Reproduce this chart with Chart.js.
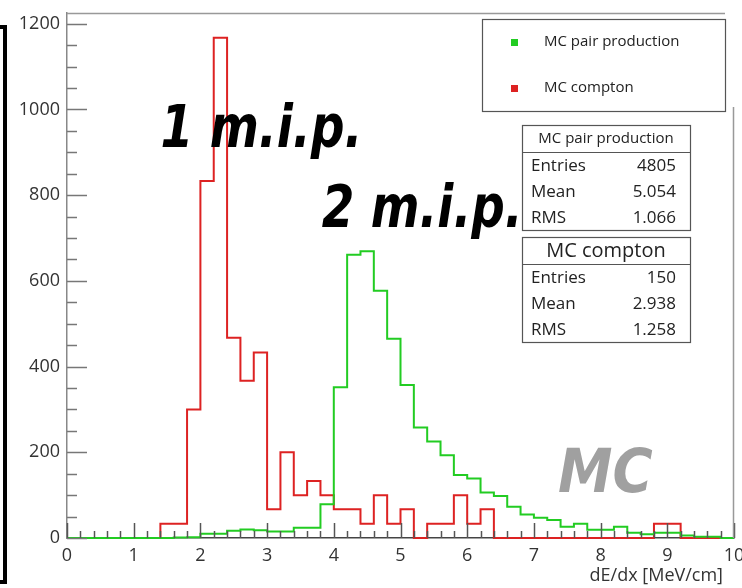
<!DOCTYPE html>
<html>
<head>
<meta charset="utf-8">
<script src="https://cdn.jsdelivr.net/npm/chart.js@4.4.1/dist/chart.umd.min.js"></script>
<style>
  body { margin: 0; background: #fff; }
  canvas { display: block; }
</style>
</head>
<body>
<canvas id="dedxChart" width="742" height="588"></canvas>
<script>
// dE/dx bin edges [MeV/cm], 50 bins of 0.2
const binEdges = [0, 0.2, 0.4, 0.6, 0.8, 1, 1.2, 1.4, 1.6, 1.8,
                  2, 2.2, 2.4, 2.6, 2.8, 3, 3.2, 3.4, 3.6, 3.8,
                  4, 4.2, 4.4, 4.6, 4.8, 5, 5.2, 5.4, 5.6, 5.8,
                  6, 6.2, 6.4, 6.6, 6.8, 7, 7.2, 7.4, 7.6, 7.8,
                  8, 8.2, 8.4, 8.6, 8.8, 9, 9.2, 9.4, 9.6, 9.8, 10];

// MC pair production (green)
const pairCounts = [0, 0, 0, 0, 0, 0, 0, 0, 1, 2,
                    10, 10, 17, 20, 18, 15, 15, 24, 24, 79,
                    352, 661, 669, 577, 465, 357, 258, 225, 193, 147,
                    139, 106, 98, 73, 55, 47, 42, 26, 33, 19,
                    19, 26, 12, 9, 12, 12, 6, 3, 3, 0];

// MC compton (red)
const comptonCounts = [0, 0, 0, 0, 0, 0, 0, 33, 33, 300,
                       833, 1167, 467, 367, 433, 67, 200, 100, 133, 100,
                       67, 67, 33, 100, 33, 67, 0, 33, 33, 100,
                       33, 67, 0, 0, 0, 0, 0, 0, 0, 0,
                       0, 0, 0, 0, 33, 33, 0, 0, 0, 0];

const seriesNames = ['MC pair production', 'MC compton'];
const seriesColors = ['#22cc22', '#dd2222'];
const statLabels = ['Entries', 'Mean', 'RMS'];
const pairStats = ['4805', '5.054', '1.066'];
const comptonStats = ['150', '2.938', '1.258'];
const yTickValues = [0, 200, 400, 600, 800, 1000, 1200];
const xTitle = 'dE/dx [MeV/cm]';

function toSteps(counts) {
    // one point per low edge, plus the last upper edge
    return binEdges.map((x, i) => ({ x: x, y: counts[Math.min(i, counts.length - 1)] }));
}

function fitText(ctx, text, x, y, width, font, color) {
    ctx.save();
    ctx.font = font;
    let w = ctx.measureText(text).width;
    ctx.translate(x, y);
    ctx.scale(width / w, 1);
    ctx.fillStyle = color;
    ctx.textBaseline = 'alphabetic';
    ctx.textAlign = 'left';
    ctx.fillText(text, 0, 0);
    ctx.restore();
}

function statsBox(ctx, x, y, title, titleFont, values) {
    const w = 168, h = 105;
    ctx.save();
    ctx.strokeStyle = '#555';
    ctx.lineWidth = 1.2;
    ctx.strokeRect(x + 0.5, y + 0.5, w, h);
    ctx.beginPath();
    ctx.moveTo(x, y + 27.5);
    ctx.lineTo(x + w, y + 27.5);
    ctx.stroke();
    ctx.fillStyle = '#222';
    ctx.textBaseline = 'middle';
    ctx.textAlign = 'center';
    ctx.font = titleFont;
    ctx.fillText(title, x + w / 2, y + 14);
    ctx.font = '17px "Open Sans"';
    for (let i = 0; i < statLabels.length; i++) {
        let ty = y + 41 + i * 26;
        ctx.textAlign = 'left';
        ctx.fillText(statLabels[i], x + 9, ty);
        ctx.textAlign = 'right';
        ctx.fillText(values[i], x + 154, ty);
    }
    ctx.restore();
}

const rootLook = {
    id: 'rootLook',
    afterDatasetsDraw(chart) {
        const ctx = chart.ctx;
        const xs = chart.scales.x, ys = chart.scales.y;
        const a = chart.chartArea;
        ctx.save();

        // y ticks, inward
        ctx.strokeStyle = '#777';
        ctx.lineWidth = 1.5;
        for (let v = 0; v <= 1200; v += 50) {
            let py = Math.round(ys.getPixelForValue(v)) + 0.5;
            let len = v % 200 === 0 ? 20 : 10;
            ctx.beginPath();
            ctx.moveTo(a.left, py);
            ctx.lineTo(a.left + len, py);
            ctx.stroke();
        }

        // x ticks, inward
        ctx.strokeStyle = '#555';
        for (let i = 0; i <= 50; i++) {
            let px = Math.round(xs.getPixelForValue(i * 0.2)) + 0.5;
            let len = i % 5 === 0 ? 15 : 7;
            ctx.beginPath();
            ctx.moveTo(px, a.bottom);
            ctx.lineTo(px, a.bottom - len);
            ctx.stroke();
        }

        // frame pieces: top and right
        ctx.strokeStyle = '#999';
        ctx.lineWidth = 1.5;
        ctx.beginPath();
        ctx.moveTo(a.left, a.top + 0.5);
        ctx.lineTo(725, a.top + 0.5);
        ctx.moveTo(a.right - 0.5, 107);
        ctx.lineTo(a.right - 0.5, a.bottom);
        ctx.stroke();
        ctx.restore();
    },
    afterDraw(chart) {
        const ctx = chart.ctx;
        const xs = chart.scales.x, ys = chart.scales.y;

        // black bracket on the far left
        ctx.save();
        ctx.strokeStyle = '#000';
        ctx.lineWidth = 4;
        ctx.beginPath();
        ctx.moveTo(0, 27);
        ctx.lineTo(5, 27);
        ctx.lineTo(5, 582);
        ctx.lineTo(0, 582);
        ctx.stroke();
        ctx.restore();

        // legend box
        ctx.save();
        ctx.fillStyle = '#fff';
        ctx.fillRect(482, 19, 243, 92);
        ctx.strokeStyle = '#555';
        ctx.lineWidth = 1.2;
        ctx.strokeRect(482.5, 19.5, 243, 92);
        ctx.font = '15px "Open Sans"';
        ctx.textBaseline = 'middle';
        ctx.textAlign = 'left';
        const ly = [42, 88];
        for (let i = 0; i < seriesNames.length; i++) {
            ctx.fillStyle = seriesColors[i];
            ctx.fillRect(511, ly[i] - 3, 7, 7);
            ctx.fillStyle = '#222';
            ctx.fillText(seriesNames[i], 544, ly[i]);
        }
        ctx.restore();

        // stats boxes
        statsBox(ctx, 522, 125, seriesNames[0], '15px "Open Sans"', pairStats);
        statsBox(ctx, 522, 237, seriesNames[1], '20px "Open Sans"', comptonStats);

        // hand-written labels, anchored in data coordinates
        const handFont = 'bold italic 58px "DejaVu Sans"';
        let x0 = xs.getPixelForValue(1.4), x1 = xs.getPixelForValue(4.43);
        fitText(ctx, '1 m.i.p.', x0, ys.getPixelForValue(913), x1 - x0, handFont, '#000');
        x0 = xs.getPixelForValue(3.82); x1 = xs.getPixelForValue(6.83);
        fitText(ctx, '2 m.i.p.', x0, ys.getPixelForValue(726), x1 - x0, handFont, '#000');
        x0 = xs.getPixelForValue(7.36); x1 = xs.getPixelForValue(8.78);
        fitText(ctx, 'MC', x0, ys.getPixelForValue(107), x1 - x0, 'bold italic 60px "DejaVu Sans"', '#a0a0a0');

        // x axis title, right aligned under the axis
        ctx.save();
        ctx.font = '18px "Open Sans"';
        ctx.fillStyle = '#333';
        ctx.textAlign = 'right';
        ctx.textBaseline = 'alphabetic';
        ctx.fillText(xTitle, 723, 581);
        ctx.restore();
    }
};

let ctx = document.getElementById('dedxChart').getContext('2d');

let dedxChart = new Chart(ctx, {
    type: 'line',
    data: {
        datasets: [{
            label: seriesNames[0],
            data: toSteps(pairCounts),
            borderColor: seriesColors[0],
            borderWidth: 2,
            stepped: true,
            pointRadius: 0,
            fill: false,
            clip: 4
        }, {
            label: seriesNames[1],
            data: toSteps(comptonCounts),
            borderColor: seriesColors[1],
            borderWidth: 2,
            stepped: true,
            pointRadius: 0,
            fill: false,
            clip: 4
        }]
    },
    options: {
        responsive: false,
        animation: false,
        layout: {
            padding: { left: 0, top: 13, right: 8, bottom: 0 }
        },
        plugins: {
            legend: { display: false },
            tooltip: { enabled: false }
        },
        scales: {
            x: {
                type: 'linear',
                min: 0,
                max: 10,
                grid: { display: false, drawTicks: false },
                border: { display: true, color: '#444', width: 1.5 },
                ticks: {
                    stepSize: 1,
                    padding: 7,
                    maxRotation: 0,
                    color: '#333',
                    font: { family: 'Open Sans', size: 18 },
                    callback: v => String(v)
                },
                afterFit(scale) {
                    scale.height = 50;
                    scale.paddingLeft = 0;
                    scale.paddingRight = 0;
                }
            },
            y: {
                min: 0,
                max: 1225,
                grid: { display: false, drawTicks: false },
                border: { display: true, color: '#888', width: 1.5 },
                afterBuildTicks(scale) {
                    scale.ticks = yTickValues.map(v => ({ value: v }));
                },
                ticks: {
                    padding: 7,
                    color: '#333',
                    font: { family: 'Open Sans', size: 18 },
                    callback: v => String(v)
                },
                afterFit(scale) {
                    scale.width = 67;
                    scale.paddingTop = 0;
                    scale.paddingBottom = 0;
                }
            }
        }
    },
    plugins: [rootLook]
});
</script>
</body>
</html>
